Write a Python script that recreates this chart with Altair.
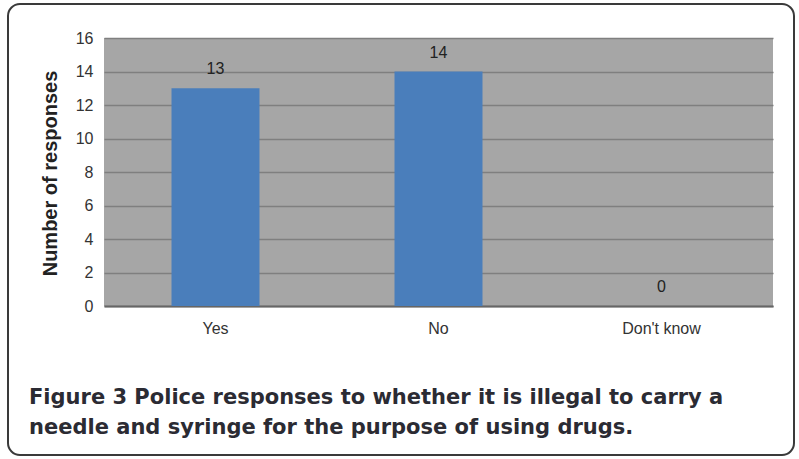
import altair as alt
import pandas as pd

# Survey answers and their counts
answers = ["Yes", "No", "Don't know"]
counts = [13, 14, 0]

y_ticks = [0, 2, 4, 6, 8, 10, 12, 14, 16]

caption_lines = [
    "Figure 3 Police responses to whether it is illegal to carry a",
    "needle and syringe for the purpose of using drugs.",
]

df = pd.DataFrame({"answer": answers, "count": counts})

AXIS_FONT = "Liberation Sans"

x_enc = alt.X(
    "answer:N",
    sort=answers,
    scale=alt.Scale(paddingInner=0, paddingOuter=0),
    axis=alt.Axis(
        title=None,
        labelAngle=0,
        labelFont=AXIS_FONT,
        labelFontSize=16,
        labelColor="#333333",
        labelPadding=14,
        ticks=False,
        domainColor="#666666",
        domainWidth=2,
        grid=False,
    ),
)

y_enc = alt.Y(
    "count:Q",
    scale=alt.Scale(domain=[0, 16], nice=False),
    axis=alt.Axis(
        values=y_ticks,
        title="Number of responses",
        titleFont=AXIS_FONT,
        titleFontSize=20,
        titleFontWeight="bold",
        titleColor="#222222",
        titleAngle=270,
        titleAlign="center",
        titleBaseline="middle",
        titleX=-54,
        titleY=135,
        labelFont=AXIS_FONT,
        labelFontSize=16,
        labelColor="#333333",
        labelPadding=11,
        labelOverlap=False,
        ticks=False,
        domain=False,
        grid=True,
        gridColor="#7f7f7f",
        gridWidth=1.5,
    ),
)

base = alt.Chart(df).encode(x=x_enc, y=y_enc)

bars = base.mark_bar(color="#4A7EBB", size=88)

values = base.mark_text(
    font=AXIS_FONT, fontSize=16, color="#222222", baseline="alphabetic", dy=-14
).encode(text="count:Q")

single = pd.DataFrame({"k": [0]})

# Rounded frame around the whole figure
frame = alt.Chart(single).mark_rect(
    fill=None, stroke="#3a3a3a", strokeWidth=2, cornerRadius=12, clip=False
).encode(
    x=alt.value(-96), x2=alt.value(690), y=alt.value(-34), y2=alt.value(417)
)

# Figure caption below the plot
caption = alt.Chart(single).mark_text(
    font="DejaVu Sans",
    fontSize=21,
    fontWeight="bold",
    color="#2b2b33",
    align="left",
    baseline="alphabetic",
    lineHeight=30,
).encode(
    x=alt.value(-75), y=alt.value(366), text=alt.value(caption_lines)
)

chart = (
    alt.layer(bars, values, frame, caption)
    .properties(
        width=669,
        height=268,
        autosize=alt.AutoSizeParams(type="none"),
        padding={"left": 104, "top": 38, "right": 26, "bottom": 153},
        background="white",
    )
    .configure_view(fill="#a6a6a6", strokeWidth=0)
)

chart.save("out.html", embed_options={"renderer": "svg", "actions": False})
